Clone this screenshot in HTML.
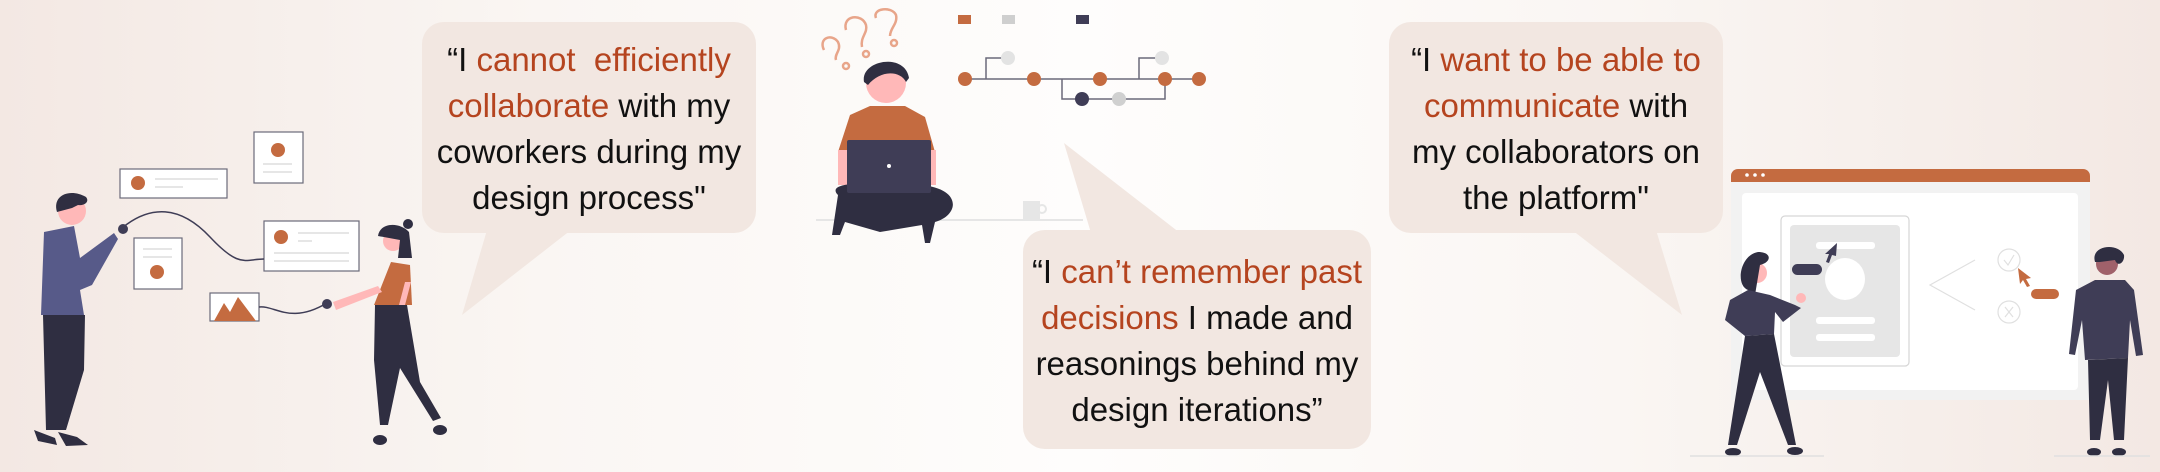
<!DOCTYPE html>
<html><head><meta charset="utf-8"><style>
html,body{margin:0;padding:0;}
body{width:2160px;height:472px;overflow:hidden;position:relative;
background:linear-gradient(90deg,#f3e8e3 0%,#faf6f3 25%,#fefdfc 50%,#faf6f3 75%,#f3e8e3 100%);
font-family:"Liberation Sans",sans-serif;}
svg{position:absolute;left:0;top:0;}
.t{position:absolute;text-align:center;font-size:33px;line-height:46px;color:#111;}
.r{color:#b5441f;}
</style></head><body>
<svg width="2160" height="472" viewBox="0 0 2160 472">
<g fill="#f2e7e1">
<rect x="422" y="22" width="334" height="211" rx="22"/>
<polygon points="487,230 571,230 462,315"/>
<rect x="1023" y="230" width="348" height="219" rx="22"/>
<polygon points="1091,233 1180,233 1064,143"/>
<rect x="1389" y="22" width="334" height="211" rx="22"/>
<polygon points="1572,230 1656,230 1682,315"/>
</g>
<g fill="#fff" stroke="#6b6a7a" stroke-width="1.2">
<rect x="120" y="169" width="107" height="29"/>
<rect x="254" y="132" width="49" height="51"/>
<rect x="134" y="238" width="48" height="51"/>
<rect x="264" y="221" width="95" height="50"/>
<rect x="210" y="293" width="49" height="28"/>
</g>
<g fill="#c46b40">
<circle cx="138" cy="183" r="7"/><circle cx="278" cy="150" r="7"/>
<circle cx="157" cy="272" r="7"/><circle cx="281" cy="237" r="7"/>
<polygon points="214,321 224,303 230,312 238,297 256,321"/>
</g>
<g stroke="#e6e6e6" stroke-width="2">
<line x1="155" y1="179" x2="218" y2="179"/><line x1="155" y1="187" x2="183" y2="187"/>
<line x1="263" y1="164" x2="292" y2="164"/><line x1="263" y1="172" x2="292" y2="172"/>
<line x1="143" y1="249" x2="172" y2="249"/><line x1="143" y1="257" x2="172" y2="257"/>
<line x1="298" y1="233" x2="349" y2="233"/><line x1="298" y1="241" x2="312" y2="241"/>
<line x1="274" y1="253" x2="349" y2="253"/><line x1="274" y1="261" x2="349" y2="261"/>
</g>
<g fill="none" stroke="#3f3d56" stroke-width="1.5">
<path d="M122,228 C150,205 180,205 210,237 S245,259 264,259"/>
<path d="M259,307 C275,305 290,325 327,303"/>
</g>
<ellipse cx="123" cy="229" rx="5" ry="5" fill="#3f3d56"/>
<circle cx="72" cy="211" r="14" fill="#ffb8b8"/>
<path d="M57,212 C52,195 70,188 86,197 C90,202 84,206 78,205 L72,208 Z" fill="#2f2e41"/>
<path d="M44,232 L74,226 L80,258 L114,233 L118,239 L92,285 L80,290 L84,315 L41,315 Z" fill="#575a89"/>
<path d="M43,315 L85,315 L84,370 L66,430 L55,430 L62,370 L58,430 L46,430 Z" fill="#2f2e41"/>
<path d="M34,430 L55,438 L57,445 L38,441 Z M58,432 L77,437 L88,445 L66,446 Z" fill="#2f2e41"/>
<circle cx="327" cy="304" r="5" fill="#3f3d56"/>
<circle cx="393" cy="241" r="10" fill="#ffb8b8"/>
<path d="M378,236 C380,222 400,222 409,232 L412,258 L398,258 L400,240 Z" fill="#2f2e41"/>
<circle cx="408" cy="224" r="5" fill="#2f2e41"/>
<path d="M391,262 L410,265 L412,305 L374,305 Z" fill="#c46b40"/>
<path d="M333,302 L378,286 L382,292 L336,310 Z" fill="#ffb8b8"/>
<path d="M405,282 L411,282 L392,355 L386,355 Z" fill="#ffb8b8"/>
<path d="M375,305 L407,305 L420,382 L441,418 L433,421 L400,368 L388,425 L380,425 L374,360 Z" fill="#2f2e41"/>
<ellipse cx="380" cy="440" rx="7" ry="5" fill="#2f2e41"/><ellipse cx="440" cy="430" rx="7" ry="5" fill="#2f2e41"/>
<g fill="none" stroke="#e8a58a" stroke-width="2.5">
<path d="M824,50 C818,38 832,33 838,42 C842,50 834,54 836,60"/><circle cx="846" cy="66" r="3"/>
<path d="M846,30 C842,15 862,13 866,25 C868,33 860,37 862,47"/><circle cx="866" cy="54" r="3"/>
<path d="M876,18 C872,8 892,6 896,15 C898,24 890,28 890,36"/><circle cx="894" cy="43" r="3"/>
</g>
<line x1="816" y1="220" x2="1083" y2="220" stroke="#e6e6e6" stroke-width="2"/>
<rect x="1023" y="201" width="17" height="19" fill="#e6e6e6"/><circle cx="1042" cy="209" r="4" fill="none" stroke="#e6e6e6" stroke-width="2"/>
<circle cx="886" cy="83" r="20" fill="#ffb8b8"/>
<path d="M864,82 C860,60 905,52 909,78 L906,82 C900,70 880,70 868,85 Z" fill="#2f2e41"/>
<path d="M850,115 L870,106 L905,106 L925,117 L935,152 L838,152 Z" fill="#c46b40"/>
<rect x="838" y="150" width="12" height="35" fill="#ffb8b8"/><rect x="925" y="150" width="11" height="35" fill="#ffb8b8"/>
<path d="M838,195 C828,185 850,182 880,185 L920,185 C962,188 960,215 935,222 L930,243 L925,243 L922,225 L880,232 L845,222 L840,235 L832,235 Z" fill="#2f2e41"/>
<rect x="847" y="140" width="84" height="53" rx="2" fill="#3f3d56"/><circle cx="889" cy="166" r="2" fill="#fff"/>
<rect x="958" y="15" width="13" height="9" fill="#c46b40"/><rect x="1002" y="15" width="13" height="9" fill="#cfcfcf"/><rect x="1076" y="15" width="13" height="9" fill="#3f3d56"/>
<g fill="none" stroke="#6b6a7a" stroke-width="1.5">
<line x1="965" y1="79" x2="1199" y2="79"/>
<polyline points="986,79 986,58 1005,58"/><polyline points="1139,79 1139,58 1158,58"/>
<polyline points="1062,79 1062,99 1165,99 1165,79"/>
</g>
<g fill="#c46b40"><circle cx="965" cy="79" r="7"/><circle cx="1034" cy="79" r="7"/><circle cx="1100" cy="79" r="7"/><circle cx="1165" cy="79" r="7"/><circle cx="1199" cy="79" r="7"/></g>
<circle cx="1008" cy="58" r="7" fill="#e3e3e3"/><circle cx="1162" cy="58" r="7" fill="#e3e3e3"/>
<circle cx="1082" cy="99" r="7" fill="#3f3d56"/><circle cx="1119" cy="99" r="7" fill="#d0d0d0"/>
<path d="M1731,176 a7,7 0 0 1 7,-7 L2083,169 a7,7 0 0 1 7,7 L2090,182 L1731,182 Z" fill="#c46b40"/>
<circle cx="1747" cy="175" r="1.8" fill="#fff"/><circle cx="1755" cy="175" r="1.8" fill="#fff"/><circle cx="1763" cy="175" r="1.8" fill="#fff"/>
<rect x="1731" y="182" width="359" height="218" fill="#f2f2f2"/>
<rect x="1742" y="193" width="336" height="197" rx="4" fill="#fff"/>
<rect x="1781" y="216" width="128" height="150" rx="4" fill="#fff" stroke="#d6d6d6" stroke-width="1.2"/>
<rect x="1790" y="225" width="110" height="132" rx="4" fill="#e6e6e6"/>
<rect x="1816" y="242" width="59" height="7" rx="3" fill="#fff"/>
<ellipse cx="1845" cy="279" rx="20" ry="21" fill="#fff"/>
<rect x="1816" y="317" width="59" height="7" rx="3" fill="#fff"/><rect x="1816" y="334" width="59" height="7" rx="3" fill="#fff"/>
<path d="M1837,243 L1825,254 L1829,254 L1826,262 L1829,263 L1832,255 L1836,256 Z" fill="#3f3d56"/>
<rect x="1792" y="264" width="30" height="11" rx="5.5" fill="#3f3d56"/>
<g fill="none" stroke="#e0e0e0" stroke-width="1.2">
<polyline points="1975,260 1930,285 1975,310"/>
<circle cx="2009" cy="260" r="11"/><circle cx="2009" cy="312" r="11"/>
<polyline points="2004,260 2008,265 2014,255"/><path d="M2005,307 L2013,317 M2013,307 L2005,317"/>
</g>
<path d="M2018,268 L2031,278 L2026,279 L2030,286 L2027,287 L2023,280 L2020,284 Z" fill="#c46b40"/>
<rect x="2031" y="289" width="28" height="10" rx="5" fill="#c46b40"/>
<circle cx="1757" cy="273" r="10" fill="#ffb8b8"/>
<path d="M1748,290 C1735,285 1740,255 1758,252 C1772,252 1772,262 1760,265 L1755,295 Z" fill="#2f2e41"/>
<path d="M1748,290 L1770,295 L1795,305 L1801,308 L1783,322 L1775,312 L1774,334 L1745,336 L1725,320 L1730,300 Z" fill="#3f3d56"/>
<circle cx="1801" cy="298" r="5" fill="#ffb8b8"/>
<path d="M1745,336 L1774,334 L1796,445 L1788,445 L1760,372 L1737,445 L1728,445 Z" fill="#2f2e41"/>
<ellipse cx="1733" cy="452" rx="8" ry="4" fill="#2f2e41"/><ellipse cx="1795" cy="451" rx="8" ry="4" fill="#2f2e41"/>
<line x1="1690" y1="456" x2="1824" y2="456" stroke="#e0e0e0" stroke-width="1.5"/>
<circle cx="2107" cy="264" r="11" fill="#a0616a"/>
<path d="M2095,262 C2090,245 2118,242 2124,255 C2125,262 2118,268 2115,260 L2100,262 Z" fill="#2f2e41"/>
<path d="M2095,280 L2125,280 L2134,290 L2143,355 L2136,356 L2130,320 L2128,358 L2085,360 L2082,320 L2075,355 L2069,354 L2076,290 Z" fill="#3f3d56"/>
<path d="M2088,360 L2128,358 L2124,440 L2114,440 L2108,380 L2100,440 L2090,440 Z" fill="#2f2e41"/>
<ellipse cx="2094" cy="452" rx="7" ry="4" fill="#2f2e41"/><ellipse cx="2119" cy="452" rx="7" ry="4" fill="#2f2e41"/>
<line x1="2054" y1="456" x2="2150" y2="456" stroke="#e0e0e0" stroke-width="1.5"/>
</svg>
<div class="t" style="left:417px;top:37px;width:344px;">“I <span class="r">cannot&nbsp; efficiently collaborate</span> with my<br>coworkers during my<br>design process"</div>
<div class="t" style="left:1018px;top:249px;width:358px;">“I <span class="r">can’t remember past<br>decisions</span> I made and<br>reasonings behind my<br>design iterations”</div>
<div class="t" style="left:1384px;top:37px;width:344px;">“I <span class="r">want to be able to<br>communicate</span> with<br>my collaborators on<br>the platform"</div>
</body></html>
